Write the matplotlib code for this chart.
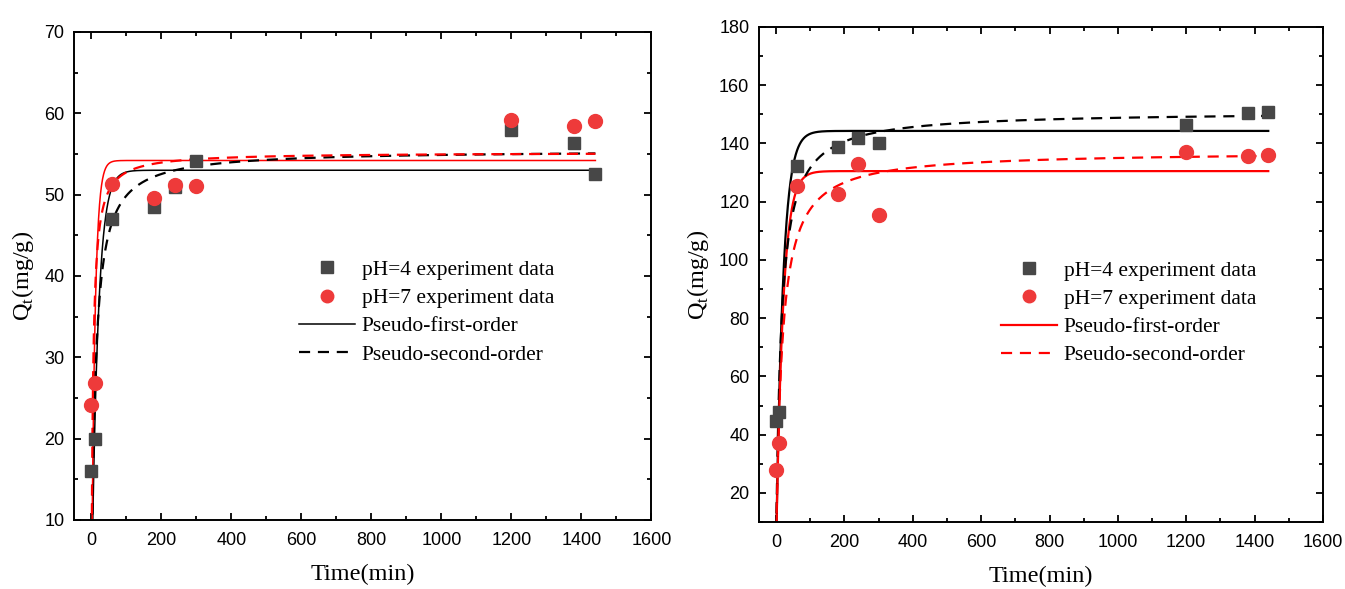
import numpy as np
import matplotlib.pyplot as plt
from matplotlib.ticker import MultipleLocator

# experimental time points (min)
t_exp = [0, 10, 60, 180, 240, 300, 1200, 1380, 1440]

# left panel data
left_ph4 = [16.0, 20.0, 47.0, 48.5, 51.0, 54.1, 57.9, 56.4, 52.5]
left_ph7 = [24.1, 26.8, 51.3, 49.6, 51.2, 51.1, 59.2, 58.5, 59.0]
# fitted parameters: (qe, k)
left_pfo_ph4 = (53.0, 0.055)
left_pfo_ph7 = (54.2, 0.10)
left_pso_ph4 = (55.5, 0.0016)
left_pso_ph7 = (55.2, 0.0039)

# right panel data
right_ph4 = [44.8, 47.9, 132.3, 138.7, 141.7, 140.2, 146.4, 150.6, 150.7]
right_ph7 = [27.9, 37.1, 125.4, 122.8, 132.9, 115.4, 137.0, 135.7, 136.2]
right_pfo_ph4 = (144.3, 0.05)
right_pfo_ph7 = (130.5, 0.05)
right_pso_ph4 = (151.0, 0.00045)
right_pso_ph7 = (137.3, 0.00043)

labels = ["pH=4 experiment data", "pH=7 experiment data",
          "Pseudo-first-order", "Pseudo-second-order"]

grey = "#474747"
red_pt = "#ee3a3a"
serif = ["Liberation Serif", "DejaVu Serif"]
sans = ["Liberation Sans", "DejaVu Sans"]
dash = (0, (5, 3.5))


def pfo(t, p):
    qe, k = p
    return qe * (1 - np.exp(-k * t))


def pso(t, p):
    qe, k = p
    return qe * qe * k * t / (1 + qe * k * t)


t_fit = np.linspace(0, 1440, 3000)

fig = plt.figure(figsize=(13.45, 5.89), dpi=100)
ax1 = fig.add_axes([0.055, 0.1172, 0.4293, 0.8285])
ax2 = fig.add_axes([0.5643, 0.1138, 0.4193, 0.8404])


def style(ax, ylim, ymaj, ymin):
    ax.set_xlim(-50, 1600)
    ax.set_ylim(*ylim)
    ax.xaxis.set_major_locator(MultipleLocator(200))
    ax.xaxis.set_minor_locator(MultipleLocator(100))
    ax.yaxis.set_major_locator(MultipleLocator(ymaj))
    ax.yaxis.set_minor_locator(MultipleLocator(ymin))
    ax.tick_params(which="both", direction="in", top=True, right=True,
                   width=1.3, labelsize=13)
    ax.tick_params(which="major", length=5)
    ax.tick_params(which="minor", length=3)
    ax.tick_params(axis="x", pad=8.5)
    ax.tick_params(axis="y", pad=7)
    for lab in ax.get_xticklabels() + ax.get_yticklabels():
        lab.set_family(sans)
    for s in ax.spines.values():
        s.set_linewidth(1.4)
    ax.set_xlabel("Time(min)", family=serif, fontsize=17.5, labelpad=11)
    ax.set_ylabel(r"Q$_\mathregular{t}$(mg/g)", family=serif, fontsize=17.5,
                  labelpad=6)


def legend(ax, handles, anchor):
    ax.legend(handles, labels, loc="upper left", bbox_to_anchor=anchor,
              frameon=False, prop={"family": serif, "size": 15.5},
              handlelength=2.6, handletextpad=0.3, labelspacing=0.38,
              borderpad=0, borderaxespad=0)


# left panel
ax1.plot(t_fit, pfo(t_fit, left_pfo_ph4), color="black", lw=1.1)
ax1.plot(t_fit, pfo(t_fit, left_pfo_ph7), color="red", lw=1.1)
ax1.plot(t_fit, pso(t_fit, left_pso_ph4), color="black", lw=1.6, ls=dash)
ax1.plot(t_fit, pso(t_fit, left_pso_ph7), color="red", lw=1.6, ls=dash)
ax1.plot(t_exp, left_ph4, "s", color=grey, ms=9, ls="none")
ax1.plot(t_exp, left_ph7, "o", color=red_pt, ms=10, ls="none")
style(ax1, (10, 70), 10, 5)

h1 = [plt.Line2D([], [], marker="s", color=grey, ms=8, ls="none"),
      plt.Line2D([], [], marker="o", color=red_pt, ms=9, ls="none"),
      plt.Line2D([], [], color="black", lw=1.1),
      plt.Line2D([], [], color="black", lw=1.6, ls=dash)]
legend(ax1, h1, (0.39, 0.533))

# right panel
ax2.plot(t_fit, pfo(t_fit, right_pfo_ph4), color="black", lw=1.6)
ax2.plot(t_fit, pfo(t_fit, right_pfo_ph7), color="red", lw=1.6)
ax2.plot(t_fit, pso(t_fit, right_pso_ph4), color="black", lw=1.6, ls=dash)
ax2.plot(t_fit, pso(t_fit, right_pso_ph7), color="red", lw=1.6, ls=dash)
ax2.plot(t_exp, right_ph4, "s", color=grey, ms=9, ls="none")
ax2.plot(t_exp, right_ph7, "o", color=red_pt, ms=10, ls="none")
style(ax2, (10, 180), 20, 10)

h2 = [plt.Line2D([], [], marker="s", color=grey, ms=8, ls="none"),
      plt.Line2D([], [], marker="o", color=red_pt, ms=9, ls="none"),
      plt.Line2D([], [], color="red", lw=1.6),
      plt.Line2D([], [], color="red", lw=1.6, ls=dash)]
legend(ax2, h2, (0.43, 0.528))

fig.savefig("out.png", dpi=100)
